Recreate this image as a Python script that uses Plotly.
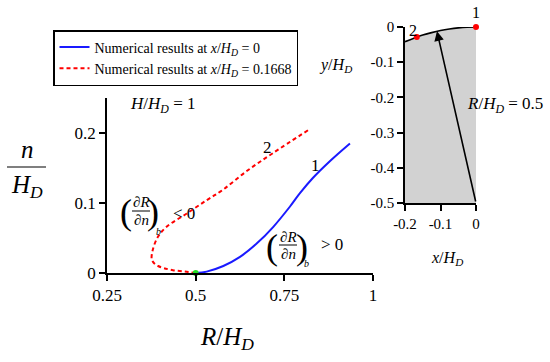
import plotly.graph_objects as go

# ---- data ----
blue_R = [0.5, 0.531, 0.578, 0.625, 0.672, 0.719, 0.766, 0.794, 0.831, 0.879, 0.935]
blue_n = [0.0, 0.002, 0.010, 0.023, 0.042, 0.066, 0.095, 0.114, 0.136, 0.160, 0.185]
red_R = [0.5, 0.47, 0.436, 0.41, 0.394, 0.381, 0.376, 0.379, 0.394, 0.418, 0.475, 0.531,
         0.577, 0.645, 0.72, 0.817]
red_n = [0.0, 0.002, 0.004, 0.007, 0.010, 0.015, 0.020, 0.033, 0.052, 0.066, 0.085, 0.104,
         0.119, 0.146, 0.172, 0.204]
start_pt_R = [0.5]
start_pt_n = [0.0]
crest_x = [-0.2, -0.175, -0.15, -0.125, -0.1, -0.075, -0.05, -0.025, 0.0]
crest_y = [-0.0417, -0.0318, -0.0230, -0.0159, -0.0101, -0.0057, -0.0025, -0.0006, 0.0]
section_x = [0.0, -0.1668]
section_y = [0.0, -0.0286]
main_xticks = [0.25, 0.5, 0.75, 1.0]
main_xlabels = ["0.25", "0.5", "0.75", "1"]
main_yticks = [0.0, 0.1, 0.2]
main_ylabels = ["0", "0.1", "0.2"]
ins_xticks = [-0.2, -0.1, 0.0]
ins_xlabels = ["-0.2", "-0.1", "0"]
ins_yticks = [0.0, -0.1, -0.2, -0.3, -0.4, -0.5]
ins_ylabels = ["0", "-0.1", "-0.2", "-0.3", "-0.4", "-0.5"]

W, H = 550, 362
FONT = "Liberation Serif"


def px(x):
    return x / W


def py(y):
    return 1 - y / H


fig = go.Figure()

# inset: dam crest section
fig.add_trace(go.Scatter(x=crest_x + [0.0, -0.2], y=crest_y + [-0.5, -0.5],
                         fill="toself", fillcolor="#d2d2d2", mode="none",
                         xaxis="x2", yaxis="y2", showlegend=False, hoverinfo="skip"))
fig.add_trace(go.Scatter(x=crest_x, y=crest_y, mode="lines", line=dict(color="black", width=1.6),
                         line_shape="spline", xaxis="x2", yaxis="y2", showlegend=False))
fig.add_trace(go.Scatter(x=section_x, y=section_y, mode="markers",
                         marker=dict(color="red", size=6), cliponaxis=False,
                         xaxis="x2", yaxis="y2", showlegend=False))

# main curves
fig.add_trace(go.Scatter(x=blue_R, y=blue_n, mode="lines", line=dict(color="#1a1aff", width=2),
                         line_shape="spline",
                         name="Numerical results at <i>x</i>/<i>H<sub>D</sub></i> = 0"))
fig.add_trace(go.Scatter(x=red_R, y=red_n, mode="lines",
                         line=dict(color="red", width=2, dash="4px,3px"),
                         line_shape="spline",
                         name="Numerical results at <i>x</i>/<i>H<sub>D</sub></i> = 0.1668"))
fig.add_trace(go.Scatter(x=start_pt_R, y=start_pt_n, mode="markers",
                         marker=dict(color="#22dd22", size=6), cliponaxis=False, showlegend=False))

axis_common = dict(showline=True, linecolor="black", linewidth=1.5, ticks="outside",
                   ticklen=6, tickwidth=1.5, tickcolor="black", showgrid=False, zeroline=False)
main_tf = dict(family=FONT, size=17, color="black")
ins_tf = dict(family=FONT, size=15, color="black")

fig.update_layout(
    template="none",
    width=W, height=H, margin=dict(l=0, r=0, t=0, b=0, autoexpand=False),
    paper_bgcolor="white", plot_bgcolor="rgba(0,0,0,0)",
    font=dict(family=FONT, color="black"),
    xaxis=dict(domain=[px(107), px(373)], range=[0.25, 1.0], tickvals=main_xticks,
               ticktext=main_xlabels, anchor="y", tickfont=main_tf, **axis_common),
    yaxis=dict(domain=[py(273), py(98)], range=[0, 0.25], tickvals=main_yticks,
               ticktext=main_ylabels, anchor="x", tickfont=main_tf, **axis_common),
    xaxis2=dict(domain=[px(405), px(476)], range=[-0.2, 0.0], tickvals=ins_xticks,
                ticktext=ins_xlabels, anchor="y2", tickfont=ins_tf, **axis_common),
    yaxis2=dict(domain=[py(203), py(27)], range=[-0.5, 0.0], tickvals=ins_yticks,
                ticktext=ins_ylabels, anchor="x2", tickfont=ins_tf, **axis_common),
    legend=dict(x=px(53), y=py(30), xanchor="left", yanchor="top",
                bordercolor="black", borderwidth=1.5, bgcolor="white",
                font=dict(family=FONT, size=14, color="black"),
                itemwidth=30, tracegroupgap=0),
    showlegend=True,
)

ann = []


def txt(x, y, t, size, xanchor="center", yanchor="middle"):
    ann.append(dict(x=px(x), y=py(y), xref="paper", yref="paper", text=t, showarrow=False,
                    font=dict(family=FONT, size=size, color="black"),
                    xanchor=xanchor, yanchor=yanchor))


# axis titles and labels
txt(227, 338, "<i>R</i>/<i>H<sub>D</sub></i>", 25)
txt(27, 150, "<i>n</i>", 25)
txt(27, 186, "<i>H<sub>D</sub></i>", 25)
txt(335, 66, "<i>y</i>/<i>H<sub>D</sub></i>", 16)
txt(447, 258, "<i>x</i>/<i>H<sub>D</sub></i>", 16)
txt(162, 105, "<i>H</i>/<i>H<sub>D</sub></i> = 1", 17)
txt(505, 105, "<i>R</i>/<i>H<sub>D</sub></i> = 0.5", 17)
txt(315, 165, "1", 17)
txt(267, 147, "2", 17)
txt(476, 12, "1", 16)
txt(413, 30, "2", 16)

shapes = []


def deriv(xl, xc, xr, ytop, yline, ybot, ysub, xsub, sign, xsign, ysign):
    txt(xl, (ytop + ybot) / 2 + 1, "(", 36)
    txt(xr, (ytop + ybot) / 2 + 1, ")", 36)
    txt(xc, ytop, "∂<i>R</i>", 15)
    txt(xc, ybot, "∂<i>n</i>", 15)
    txt(xsub, ysub, "<i>b</i>", 10)
    txt(xsign, ysign, sign, 17, xanchor="left")
    shapes.append(dict(type="line", xref="paper", yref="paper",
                       x0=px(xc - 9), x1=px(xc + 9), y0=py(yline), y1=py(yline),
                       line=dict(color="black", width=1)))


# n/H_D fraction bar
shapes.append(dict(type="line", xref="paper", yref="paper", x0=px(7), x1=px(46),
                   y0=py(167), y1=py(167), line=dict(color="black", width=1.2)))
deriv(126, 141, 153, 202, 211, 220, 231, 158, "&lt; 0", 171, 213)
deriv(272, 288, 302, 237, 245, 254, 263, 306, "&gt; 0", 319, 244)

# arrow in inset
ann.append(dict(x=-0.11, y=-0.012, xref="x2", yref="y2", ax=0.0, ay=-0.5,
                axref="x2", ayref="y2", showarrow=True, arrowhead=2, arrowsize=1.2,
                arrowwidth=1.6, arrowcolor="black", text=""))

fig.update_layout(annotations=ann, shapes=shapes)
fig.write_html("out.html", config={"displayModeBar": False},
               post_script="document.body.style.margin='0';document.body.style.padding='0';")
